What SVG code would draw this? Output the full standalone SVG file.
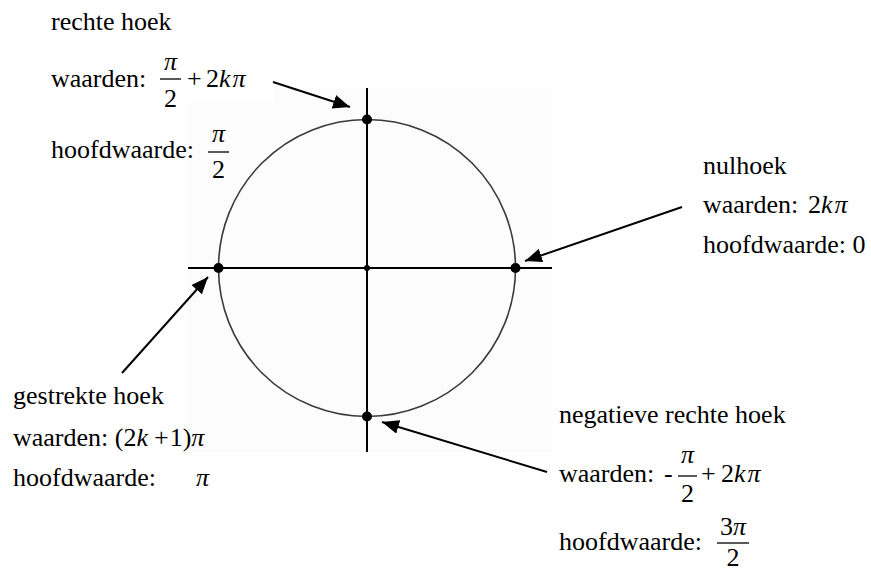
<svg xmlns="http://www.w3.org/2000/svg" width="871" height="573" viewBox="0 0 871 573">
<style>
text{font-family:"Liberation Serif","Times New Roman",serif;font-size:26px;fill:#000}
.i{font-style:italic}
.m{text-anchor:middle}
.bar{stroke:#000;stroke-width:1.3}
.ax{stroke:#000;stroke-width:2}
.dot{fill:#000}
.arr{stroke:#000;stroke-width:2;fill:none;marker-end:url(#ah)}
</style>
<defs>
<marker id="ah" markerUnits="userSpaceOnUse" markerWidth="18" markerHeight="14" refX="17" refY="7" orient="auto">
<path d="M0,0 L17,7 L0,14 Z" fill="#000"/>
</marker>
</defs>
<rect x="0" y="0" width="871" height="573" fill="#fff"/>
<rect x="188" y="88" width="364" height="364" fill="#fcfcfc"/>
<rect x="0" y="0" width="273" height="103" fill="#fff"/>
<g id="circle">
<circle cx="367" cy="268" r="148.5" fill="none" stroke="#3a3a3a" stroke-width="1.6"/>
<line class="ax" x1="188" y1="268" x2="552" y2="268"/>
<line class="ax" x1="367" y1="88" x2="367" y2="452"/>
<circle class="dot" cx="367" cy="268" r="3"/>
</g>
<g id="pt-top"><circle class="dot" cx="367" cy="119.5" r="5"/></g>
<g id="pt-right"><circle class="dot" cx="515.5" cy="268" r="5"/></g>
<g id="pt-left"><circle class="dot" cx="218.5" cy="268" r="5"/></g>
<g id="pt-bottom"><circle class="dot" cx="367" cy="416.5" r="5"/></g>
<g id="connectors">
<line class="arr" x1="273" y1="82" x2="350" y2="107"/>
<line class="arr" x1="682" y1="207" x2="525" y2="261"/>
<line class="arr" x1="122" y1="373" x2="208" y2="277"/>
<line class="arr" x1="547" y1="472" x2="382" y2="422"/>
</g>
<g id="label-rechte">
<text x="51" y="30">rechte hoek</text>
<text x="51" y="87">waarden:</text>
<text x="170.5" y="70" class="m i">π</text>
<line class="bar" x1="160" y1="79" x2="181" y2="79"/>
<text x="170.5" y="107" class="m">2</text>
<text x="187" y="87">+</text>
<text x="206" y="87">2<tspan class="i">k</tspan><tspan class="i" dx="2">π</tspan></text>
<text x="51" y="158">hoofdwaarde:</text>
<text x="218.5" y="142" class="m i">π</text>
<line class="bar" x1="208" y1="152" x2="229" y2="152"/>
<text x="218.5" y="178" class="m">2</text>
</g>
<g id="label-nul">
<text x="703" y="174">nulhoek</text>
<text x="703" y="213">waarden: <tspan x="808">2</tspan><tspan class="i">k</tspan><tspan class="i" dx="2">π</tspan></text>
<text x="703" y="253">hoofdwaarde: 0</text>
</g>
<g id="label-gestrekt">
<text x="13" y="404">gestrekte hoek</text>
<text x="13" y="446">waarden: (2<tspan class="i">k</tspan><tspan dx="6">+</tspan><tspan dx="1">1)</tspan><tspan class="i">π</tspan></text>
<text x="13" y="486">hoofdwaarde: <tspan class="i" x="196">π</tspan></text>
</g>
<g id="label-negatief">
<text x="559" y="423">negatieve rechte hoek</text>
<text x="559" y="482">waarden: <tspan x="664">-</tspan></text>
<text x="687.5" y="463" class="m i">π</text>
<line class="bar" x1="678" y1="476" x2="697" y2="476"/>
<text x="687.5" y="502" class="m">2</text>
<text x="701" y="482">+</text>
<text x="721" y="482">2<tspan class="i">k</tspan><tspan class="i" dx="2">π</tspan></text>
<text x="559" y="550">hoofdwaarde:</text>
<text x="733" y="535" class="m">3<tspan class="i">π</tspan></text>
<line class="bar" x1="717" y1="543" x2="749" y2="543"/>
<text x="733" y="566" class="m">2</text>
</g>
</svg>
